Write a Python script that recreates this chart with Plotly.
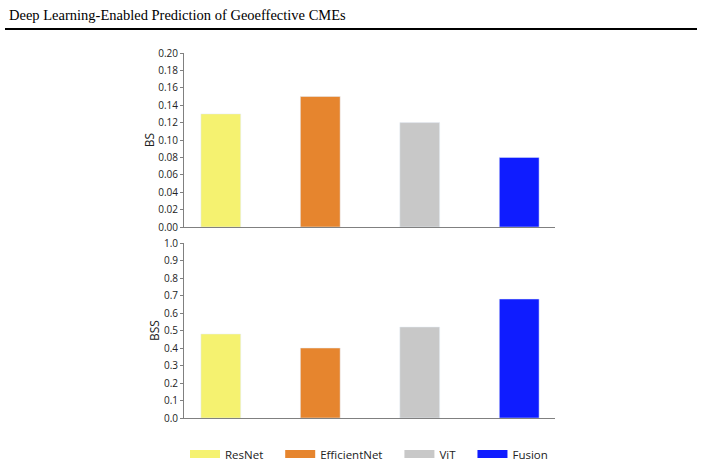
import plotly.graph_objects as go

models = ["ResNet", "EfficientNet", "ViT", "Fusion"]
bs_values = [0.13, 0.15, 0.12, 0.08]
bss_values = [0.48, 0.40, 0.52, 0.68]
colors = ["#F5F270", "#E6852E", "#C8C8C8", "#0F1CFF"]
bs_ticks = [0.00, 0.02, 0.04, 0.06, 0.08, 0.10, 0.12, 0.14, 0.16, 0.18, 0.20]
bss_ticks = [0.0, 0.1, 0.2, 0.3, 0.4, 0.5, 0.6, 0.7, 0.8, 0.9, 1.0]
title_text = "Deep Learning-Enabled Prediction of Geoeffective CMEs"

fig = go.Figure()
for i, m in enumerate(models):
    fig.add_trace(go.Bar(x=[m], y=[bs_values[i]], marker_color=colors[i], width=0.4,
                         showlegend=False, xaxis="x", yaxis="y"))
    fig.add_trace(go.Bar(x=[m], y=[bss_values[i]], marker_color=colors[i], width=0.4,
                         showlegend=False, xaxis="x2", yaxis="y2"))
for i, m in enumerate(models):
    fig.add_trace(go.Scatter(x=[None], y=[None], mode="lines", name=m + "\u00a0" * 4,
                             line=dict(color=colors[i], width=8), xaxis="x", yaxis="y"))

axis_common = dict(showline=True, linecolor="#808080", linewidth=1, showgrid=False,
                   zeroline=False)
xdom = [184 / 705, 555 / 705]
fig.update_layout(
    width=705, height=465,
    margin=dict(l=0, r=0, t=0, b=0, autoexpand=False),
    paper_bgcolor="white", plot_bgcolor="white",
    barmode="overlay",
    font=dict(family="Open Sans", size=10, color="#222"),
    xaxis=dict(domain=xdom, anchor="y", showticklabels=False, ticks="",
               range=[-0.37, 3.36], **axis_common),
    yaxis=dict(domain=[1 - 227 / 465, 1 - 53 / 465], anchor="x", range=[0, 0.2],
               tickvals=bs_ticks, tickformat=".2f", ticks="outside", ticklen=3,
               tickcolor="#808080", title=dict(text="BS", font=dict(size=12), standoff=1),
               **axis_common),
    xaxis2=dict(domain=xdom, anchor="y2", showticklabels=False, ticks="",
                range=[-0.37, 3.36], **axis_common),
    yaxis2=dict(domain=[1 - 418 / 465, 1 - 243 / 465], anchor="x2", range=[0, 1.0],
                tickvals=bss_ticks, tickformat=".1f", ticks="outside", ticklen=3,
                tickcolor="#808080", title=dict(text="BSS", font=dict(size=12), standoff=1),
                **axis_common),
    legend=dict(orientation="h", x=185 / 705, xanchor="left", y=1 - 454 / 465,
                yanchor="middle", font=dict(size=11.5, color="#222"), itemwidth=30),
    shapes=[dict(type="line", xref="paper", yref="paper", x0=5 / 705, x1=697 / 705,
                 y0=1 - 29 / 465, y1=1 - 29 / 465, line=dict(color="black", width=2))],
    annotations=[dict(text=title_text, xref="paper", yref="paper", x=7 / 705,
                      y=1 - 15 / 465, xanchor="left", yanchor="middle", showarrow=False,
                      font=dict(family="Liberation Serif", size=14.5, color="black"))],
)

fig.write_html("out.html")
